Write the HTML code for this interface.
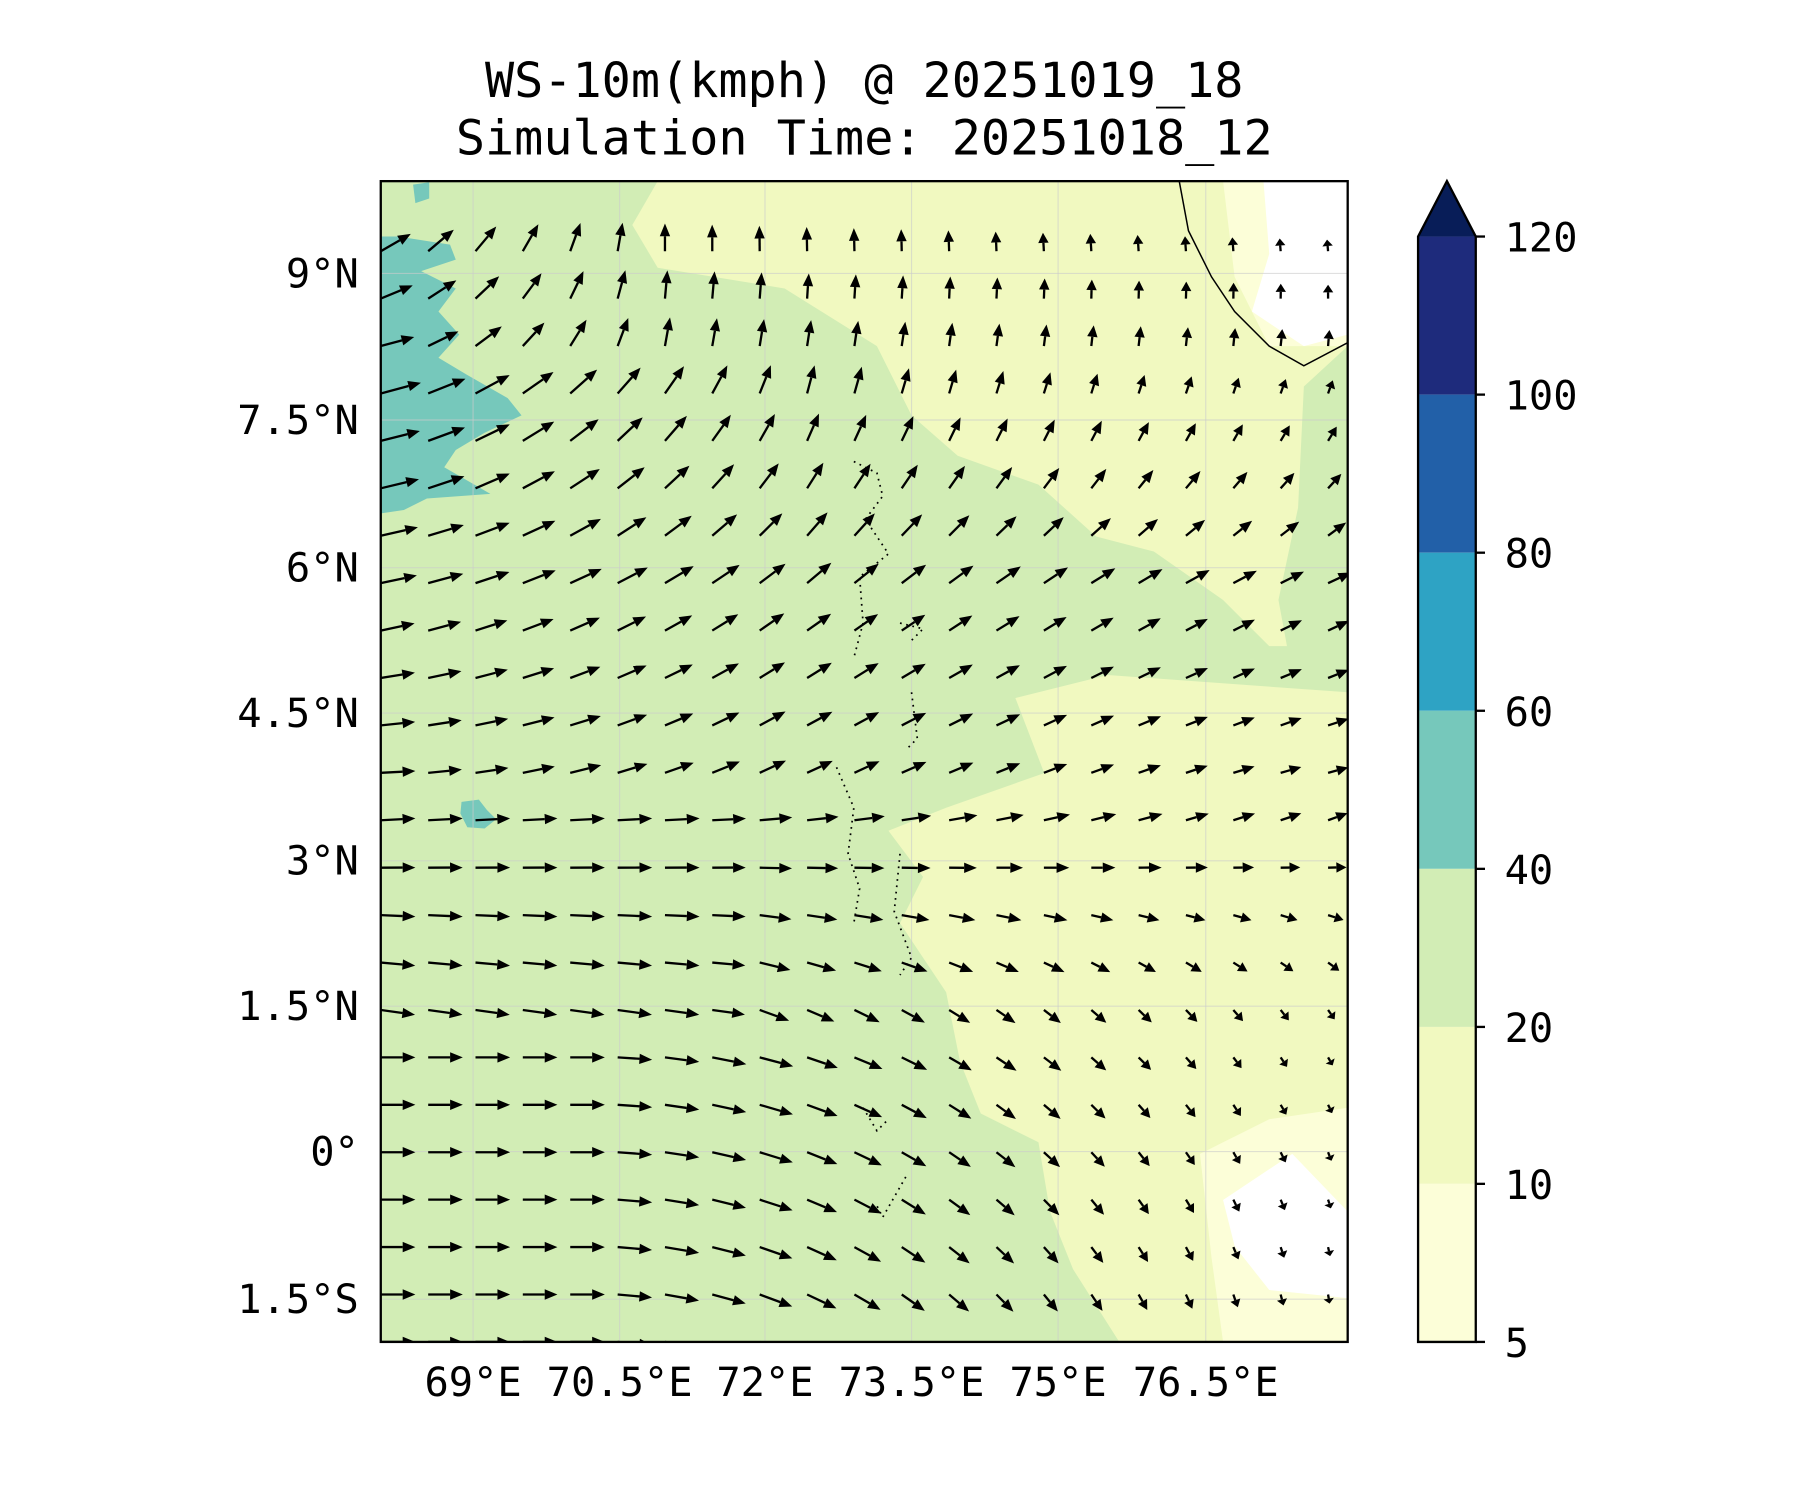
<!DOCTYPE html>
<html><head><meta charset="utf-8"><style>html,body{margin:0;padding:0;background:#fff}svg{display:block}</style></head>
<body>
<svg id="s" xmlns="http://www.w3.org/2000/svg" width="1800" height="1500" viewBox="0 0 1560 1300">
<defs><clipPath id="c"><rect x="330" y="157" width="838" height="1006"/></clipPath></defs>
<rect width="1560" height="1300" fill="#fff"/>
<g clip-path="url(#c)">
<rect x="330" y="157" width="838" height="1006" fill="#d2edb5"/>
<polygon fill="#f1f9c0" points="570,157 1168,157 1168,560 1100,560 1060,520 1000,478 950,465 900,420 830,395 790,360 760,300 680,250 570,232 548,195"/>
<polygon fill="#d2edb5" points="1130,335 1168,300 1168,585 1120,585 1108,520 1125,440"/>
<polygon fill="#f1f9c0" points="1168,600 960,585 880,605 905,670 820,700 770,720 800,760 780,800 820,860 832,920 850,965 900,990 910,1050 930,1100 970,1163 1168,1163"/>
<polygon fill="#fcfed8" points="1040,1000 1100,970 1168,960 1168,1163 1060,1163 1050,1090"/>
<polygon fill="#fff" points="1060,1040 1120,1000 1168,1050 1168,1125 1100,1118 1070,1080"/>
<polygon fill="#fcfed8" points="1060,157 1168,157 1168,300 1100,300 1070,240"/>
<polygon fill="#fff" points="1095,157 1168,157 1168,290 1130,300 1085,270 1100,220"/>
<polygon fill="#76c8bb" points="330,205 345,205 390,212 395,225 365,235 395,250 380,270 398,290 380,310 405,325 440,345 452,360 420,375 395,390 385,405 425,428 370,432 350,442 330,445"/>
<polygon fill="#76c8bb" points="400,695 415,693 422,702 430,710 420,718 405,717 399,705"/>
<polygon fill="#76c8bb" points="358,160 372,158 372,172 360,176"/>
<g stroke="#ccc" stroke-opacity="0.6" stroke-width="1">
<line x1="410" y1="157" x2="410" y2="1163"/><line x1="537" y1="157" x2="537" y2="1163"/><line x1="663" y1="157" x2="663" y2="1163"/><line x1="790" y1="157" x2="790" y2="1163"/><line x1="917" y1="157" x2="917" y2="1163"/><line x1="1045" y1="157" x2="1045" y2="1163"/>
<line x1="330" y1="237" x2="1168" y2="237"/><line x1="330" y1="364" x2="1168" y2="364"/><line x1="330" y1="492" x2="1168" y2="492"/><line x1="330" y1="618" x2="1168" y2="618"/><line x1="330" y1="746" x2="1168" y2="746"/><line x1="330" y1="872" x2="1168" y2="872"/><line x1="330" y1="998" x2="1168" y2="998"/><line x1="330" y1="1126" x2="1168" y2="1126"/>
</g>
<path d="M1022,157 L1030,200 L1050,240 L1070,270 L1100,300 L1130,317 L1168,297" fill="none" stroke="#000" stroke-width="1.3"/>
<path d="M740,400 L760,410 L765,430 L750,450 L770,480 L745,500 L748,540 L740,570 M780,540 L800,545 L790,555 M790,600 L795,640 L785,650 M725,665 L740,700 L735,740 L745,770 L740,800 M780,740 L775,790 L790,830 L780,845 M748,960 L760,980 L770,970 M785,1020 L765,1055 L760,1045" fill="none" stroke="#000" stroke-width="1.5" stroke-dasharray="1.5,4"/>
<g id="arr" fill="#000" stroke="#000"></g>
</g>
<rect x="330" y="157" width="838" height="1006" fill="none" stroke="#000" stroke-width="2"/>
<g font-family="DejaVu Sans Mono, Liberation Mono, monospace" font-size="35" fill="#000">
<text x="749" y="84" text-anchor="middle" font-size="42">WS-10m(kmph) @ 20251019_18</text>
<text x="749" y="134" text-anchor="middle" font-size="42">Simulation Time: 20251018_12</text>
<g text-anchor="end">
<text x="311" y="249">9°N</text><text x="311" y="376">7.5°N</text><text x="311" y="504">6°N</text><text x="311" y="630">4.5°N</text><text x="311" y="758">3°N</text><text x="311" y="884">1.5°N</text><text x="311" y="1010">0°</text><text x="311" y="1138">1.5°S</text>
</g>
<g text-anchor="middle">
<text x="410" y="1210">69°E</text><text x="537" y="1210">70.5°E</text><text x="663" y="1210">72°E</text><text x="790" y="1210">73.5°E</text><text x="917" y="1210">75°E</text><text x="1045" y="1210">76.5°E</text>
</g>
<g>
<rect x="1229" y="205" width="50" height="137" fill="#1e2b7c"/>
<rect x="1229" y="342" width="50" height="137" fill="#2260a8"/>
<rect x="1229" y="479" width="50" height="137" fill="#2ea3c4"/>
<rect x="1229" y="616" width="50" height="137" fill="#76c8bb"/>
<rect x="1229" y="753" width="50" height="137" fill="#d2edb5"/>
<rect x="1229" y="890" width="50" height="136" fill="#f1f9c0"/>
<rect x="1229" y="1026" width="50" height="137" fill="#fcfed8"/>
<polygon points="1229,205 1254,157 1279,205" fill="#081d58"/>
<path d="M1229,1163 L1229,205 L1254,157 L1279,205 L1279,1163 Z" fill="none" stroke="#000" stroke-width="2"/>
<g stroke="#000" stroke-width="2"><line x1="1279" y1="205" x2="1287" y2="205"/><line x1="1279" y1="342" x2="1287" y2="342"/><line x1="1279" y1="479" x2="1287" y2="479"/><line x1="1279" y1="616" x2="1287" y2="616"/><line x1="1279" y1="753" x2="1287" y2="753"/><line x1="1279" y1="890" x2="1287" y2="890"/><line x1="1279" y1="1026" x2="1287" y2="1026"/><line x1="1279" y1="1163" x2="1287" y2="1163"/></g>
<text x="1304" y="218">120</text><text x="1304" y="355">100</text><text x="1304" y="492">80</text><text x="1304" y="629">60</text><text x="1304" y="766">40</text><text x="1304" y="903">20</text><text x="1304" y="1039">10</text><text x="1304" y="1176">5</text>
</g>
</g>
</svg>
<script>
(function(){
var g=document.getElementById('arr'),h='';
function lerp(a,b,t){return a+(b-a)*t;}
for(var j=0;j<=23;j++){
  var y=1163-j*41.1;
  for(var i=0;i<=20;i++){
    var x=330+i*41.05, ang, len;
    var fi=i/20;
    if(j<=6){
      var sEnd=lerp(-85,-60,j/6);
      ang=i<4?0:lerp(0,sEnd,Math.min(1,(i-4)/16));
      len=lerp(30,8,Math.max(0,(i-8)/12));
    } else if(j<=11){
      var t=(j-7)/4;
      ang=i<8?lerp(-8,3,t):lerp(lerp(-20,5,t),lerp(-55,20,t),(i-8)/12);
      len=lerp(30,lerp(10,18,t),Math.max(0,(i-6)/14));
    } else if(j<=15){
      var t=(j-12)/3;
      ang=lerp(lerp(3,12,t),lerp(25,35,t),Math.min(1,i/8));
      if(i>10) ang=lerp(lerp(25,35,t),lerp(15,25,t),(i-10)/10);
      len=lerp(30,lerp(18,20,t),fi);
    } else if(j<=20){
      var t=(j-16)/4;
      var w=lerp(12,15,t), m=lerp(40,75,t), e=lerp(25,70,t);
      ang=i<=9?lerp(w,m,i/9):lerp(m,e,(i-9)/11);
      len=lerp(lerp(32,36,t),lerp(22,12,t),fi);
    } else {
      var t=(j-21)/2;
      var w=lerp(15,30,t), m=lerp(80,90,t);
      ang=i<=6?lerp(w,m,i/6):lerp(m,lerp(85,95,t),(i-6)/14);
      len=lerp(30,lerp(14,10,t),fi);
    }
    var r=ang*Math.PI/180, ux=Math.cos(r), uy=-Math.sin(r);
    var x2=x+ux*len, y2=y+uy*len;
    var hl=Math.min(11,len*0.55), hw=4.5;
    var bx=x2-ux*hl, by=y2-uy*hl, px=-uy, py=ux;
    h+='<line x1="'+x.toFixed(1)+'" y1="'+y.toFixed(1)+'" x2="'+bx.toFixed(1)+'" y2="'+by.toFixed(1)+'" stroke-width="2"/>';
    h+='<polygon stroke="none" points="'+x2.toFixed(1)+','+y2.toFixed(1)+' '+(bx+px*hw).toFixed(1)+','+(by+py*hw).toFixed(1)+' '+(bx-px*hw).toFixed(1)+','+(by-py*hw).toFixed(1)+'"/>';
  }
}
g.innerHTML=h;
})();
</script>
</body></html>
